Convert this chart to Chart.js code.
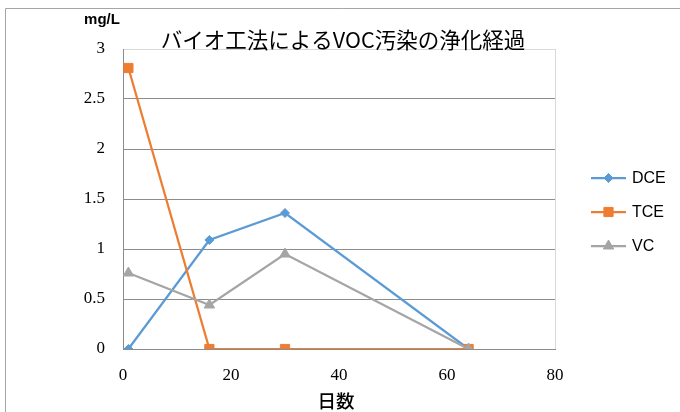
<!DOCTYPE html>
<html>
<head>
<meta charset="utf-8">
<script src="https://cdn.jsdelivr.net/npm/chart.js@4/dist/chart.umd.min.js"></script>
<style>
html,body{margin:0;padding:0;background:#fff;}
canvas{display:block;}
</style>
</head>
<body>
<canvas id="c" width="680" height="412"></canvas>
<script>
// Data
const days = [1, 16, 30, 64];
const dceValues = [0, 1.09, 1.36, 0];
const tceValues = [2.81, 0, 0, 0];
const vcValues = [0.76, 0.44, 0.95, 0];
const seriesNames = ['DCE', 'TCE', 'VC'];
const xTicks = [0, 20, 40, 60, 80];
const yTicks = [0, 0.5, 1, 1.5, 2, 2.5, 3];
const titleText = 'バイオ工法によるVOC汚染の浄化経過';
const xTitle = '日数';
const yUnit = 'mg/L';

const colors = ['#5b9bd5', '#ed7d31', '#a5a5a5'];
const styles = ['rectRot', 'rect', 'triangle'];
const radii = [4.5, 6.5, 6];
const valueSets = [dceValues, tceValues, vcValues];

const datasets = seriesNames.map((name, i) => ({
  label: name,
  data: days.map((d, j) => ({x: d, y: valueSets[i][j]})),
  borderColor: colors[i],
  backgroundColor: colors[i],
  pointBackgroundColor: colors[i],
  pointBorderColor: colors[i],
  pointStyle: styles[i],
  pointRadius: radii[i],
  pointBorderWidth: 1,
  borderWidth: 2.25,
  tension: 0,
  order: 3 - i
}));

function drawMarker(ctx, style, r, x, y) {
  if (style === 'rect') {
    const s = r * Math.SQRT1_2;
    ctx.rect(x - s, y - s, 2 * s, 2 * s);
  } else if (style === 'rectRot') {
    ctx.moveTo(x, y - r); ctx.lineTo(x + r, y); ctx.lineTo(x, y + r); ctx.lineTo(x - r, y); ctx.closePath();
  } else {
    const w = r * Math.sqrt(3) / 2;
    ctx.moveTo(x, y - r); ctx.lineTo(x + w, y + r / 2); ctx.lineTo(x - w, y + r / 2); ctx.closePath();
  }
}

const decor = {
  id: 'decor',
  beforeDraw(chart) {
    const ctx = chart.ctx;
    ctx.save();
    ctx.fillStyle = '#fff';
    ctx.fillRect(0, 0, chart.width, chart.height);
    ctx.strokeStyle = '#a6a6a6';
    ctx.lineWidth = 1;
    ctx.beginPath();
    ctx.moveTo(5.5, 412);
    ctx.lineTo(5.5, 8.5);
    ctx.lineTo(680, 8.5);
    ctx.stroke();
    const a = chart.chartArea;
    ctx.strokeStyle = '#d9d9d9';
    ctx.beginPath();
    ctx.moveTo(Math.round(a.right) + 0.5, a.top);
    ctx.lineTo(Math.round(a.right) + 0.5, a.bottom);
    ctx.stroke();
    ctx.restore();
  },
  afterDraw(chart) {
    const ctx = chart.ctx;
    ctx.save();
    ctx.fillStyle = '#000';
    ctx.textAlign = 'center';
    ctx.textBaseline = 'middle';
    ctx.font = '21.5px "Noto Sans CJK JP"';
    ctx.fillText(titleText, 343, 40);
    ctx.font = '500 18.5px "Noto Sans CJK JP"';
    ctx.fillText(xTitle, 336, 401);
    ctx.font = 'bold 15px "Liberation Sans Narrow", "Liberation Sans"';
    ctx.fillText(yUnit, 102, 20);
    const ys = [178, 212, 246];
    chart.data.datasets.forEach((ds, i) => {
      const y = ys[i];
      ctx.strokeStyle = ds.borderColor;
      ctx.lineWidth = 2.25;
      ctx.beginPath();
      ctx.moveTo(591, y);
      ctx.lineTo(626, y);
      ctx.stroke();
      ctx.fillStyle = ds.pointBackgroundColor;
      ctx.strokeStyle = ds.pointBorderColor;
      ctx.lineWidth = 1;
      ctx.beginPath();
      drawMarker(ctx, ds.pointStyle, ds.pointRadius, 608.5, y);
      ctx.fill();
      ctx.stroke();
      ctx.fillStyle = '#000';
      ctx.textAlign = 'left';
      ctx.font = '16px "Liberation Sans Narrow", "Liberation Sans"';
      ctx.fillText(ds.label, 632, y + 1);
    });
    ctx.restore();
  }
};

new Chart(document.getElementById('c'), {
  type: 'line',
  data: { datasets },
  options: {
    responsive: false,
    animation: false,
    devicePixelRatio: 1,
    layout: { padding: { top: 49, right: 125, bottom: 0, left: 0 } },
    plugins: { legend: { display: false }, title: { display: false }, tooltip: { enabled: false } },
    scales: {
      x: {
        type: 'linear',
        min: 0, max: 80,
        afterBuildTicks: s => { s.ticks = xTicks.map(v => ({value: v})); },
        afterFit: s => { s.height = 63; },
        grid: { display: true, color: 'rgba(0,0,0,0)', drawTicks: false },
        border: { display: true, color: '#8c8c8c', width: 1 },
        ticks: { padding: 16, color: '#000', font: { family: '"Liberation Serif"', size: 17 }, maxRotation: 0, callback: v => String(v) }
      },
      y: {
        type: 'linear',
        min: 0, max: 3,
        afterBuildTicks: s => { s.ticks = yTicks.map(v => ({value: v})); },
        afterFit: s => { s.width = 123; },
        grid: { color: c => (c.tick && c.tick.value === 3) ? '#d9d9d9' : '#8c8c8c', drawTicks: false, lineWidth: 1 },
        border: { display: true, color: '#8c8c8c', width: 1 },
        ticks: { padding: 18, color: '#000', font: { family: '"Liberation Serif"', size: 17 }, callback: v => String(v) }
      }
    }
  },
  plugins: [decor]
});
</script>
</body>
</html>
